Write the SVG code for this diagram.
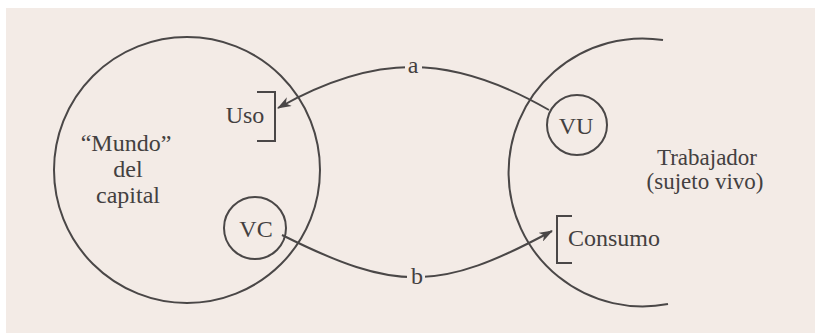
<svg xmlns="http://www.w3.org/2000/svg" width="815" height="333" viewBox="0 0 815 333">
<defs>
<style>
.ln{fill:none;stroke:#4a4747;stroke-width:2}
.t{font-family:"Liberation Serif","DejaVu Serif",serif;font-size:24px;fill:#434040}
.lbl{font-family:"Liberation Serif","DejaVu Serif",serif;font-size:24px;fill:#434040;text-anchor:middle}
</style>
<marker id="arr" viewBox="0 0 14 10" refX="13" refY="5" markerWidth="14" markerHeight="10" markerUnits="userSpaceOnUse" orient="auto">
<path d="M0,0 L14,5 L0,10 L4,5 Z" fill="#4a4747"/>
</marker>
</defs>
<rect x="0" y="0" width="815" height="333" fill="#ffffff"/>
<rect x="6" y="8" width="809" height="325" fill="#f3ebe6"/>

<g id="mundo">
<circle class="ln" cx="187" cy="170" r="133"/>
<text class="lbl" x="126" y="151">“Mundo”</text>
<text class="lbl" x="128" y="177">del</text>
<text class="lbl" x="128" y="203">capital</text>
</g>

<g id="uso">
<path class="ln" d="M257,92 H275 V141 H257"/>
<text class="lbl" x="245" y="123">Uso</text>
</g>

<g id="vc">
<circle class="ln" cx="255" cy="228" r="31"/>
<text class="lbl" x="256" y="237">VC</text>
</g>

<g id="trabajador">
<path class="ln" d="M663,40 A134,134 0 1 0 668,304"/>
<text class="lbl" x="707" y="165" style="font-size:23px">Trabajador</text>
<text class="lbl" x="705" y="189" style="font-size:23px">(sujeto vivo)</text>
</g>

<g id="vu">
<circle class="ln" cx="577" cy="125" r="30"/>
<text class="lbl" x="576" y="134">VU</text>
</g>

<g id="consumo">
<path class="ln" d="M572,216 H557 V263 H572"/>
<text class="t" x="568" y="246">Consumo</text>
</g>

<g id="connectors">
<path class="ln" d="M549,110 C450,53 375,53 278,108" marker-end="url(#arr)"/>
<path class="ln" d="M282,235 C396,292 439,292 552,231" marker-end="url(#arr)"/>
<rect x="405" y="58" width="17" height="18" fill="#f3ebe6"/>
<text class="lbl" x="413" y="73">a</text>
<rect x="407" y="266" width="18" height="20" fill="#f3ebe6"/>
<text class="lbl" x="417" y="284">b</text>
</g>
</svg>
